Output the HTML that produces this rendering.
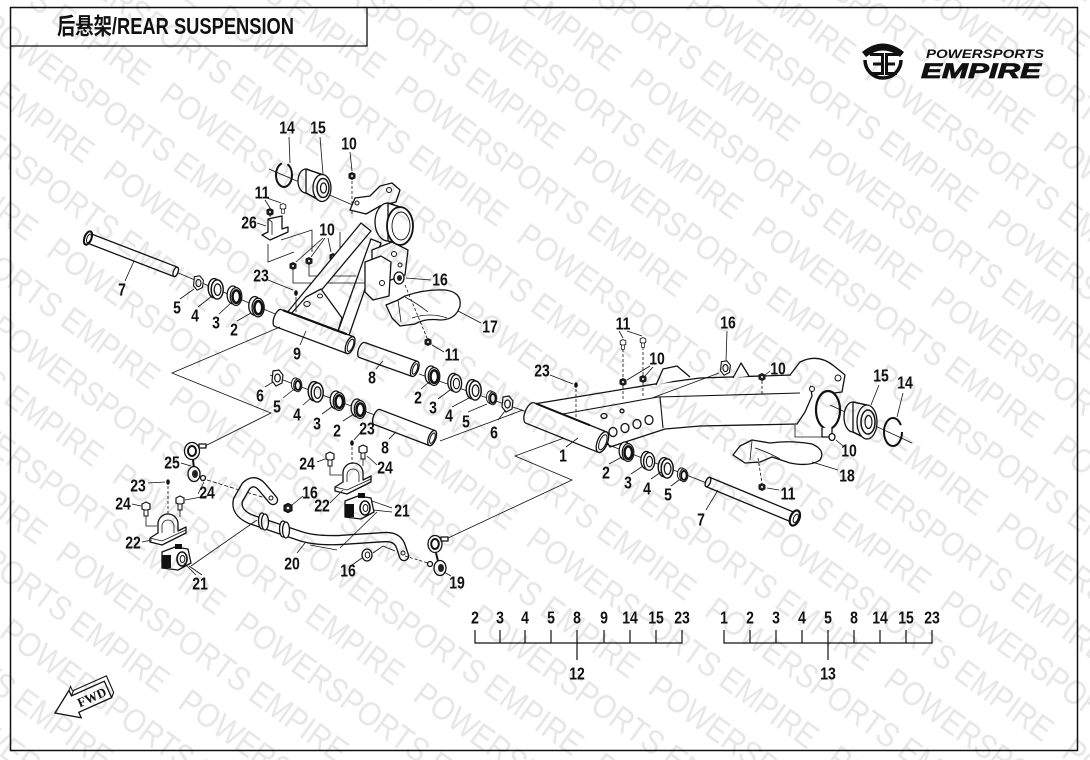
<!DOCTYPE html>
<html><head><meta charset="utf-8"><style>
html,body{margin:0;padding:0;background:#fff;}
svg{display:block;}
.n{font-family:"Liberation Sans",sans-serif;font-weight:bold;font-size:18px;text-anchor:middle;fill:#111;transform-box:fill-box;transform-origin:center;transform:scaleX(0.78);}
.l{fill:none;stroke:#111;stroke-width:0.8;}
.p{fill:#fff;stroke:#111;stroke-width:1.3;stroke-linejoin:round;}
.wmr{mix-blend-mode:multiply;}
</style></head><body>
<svg width="1090" height="760" viewBox="0 0 1090 760" xmlns="http://www.w3.org/2000/svg">
<defs>
<g id="wash">
 <ellipse cx="-1.5" cy="-0.7" rx="5" ry="8" fill="#fff" stroke="#111" stroke-width="1.2"/>
 <ellipse cx="1" cy="0.4" rx="5" ry="8" fill="#fff" stroke="#111" stroke-width="1.2"/>
 <ellipse cx="1.3" cy="0.5" rx="2.8" ry="4.8" fill="none" stroke="#111" stroke-width="1"/>
</g>
<g id="brg">
 <ellipse cx="-2" cy="-1" rx="5.5" ry="8.5" fill="#fff" stroke="#111" stroke-width="1.2"/>
 <ellipse cx="1" cy="0.5" rx="5.5" ry="8.5" fill="#fff" stroke="#111" stroke-width="1.2"/>
 <ellipse cx="1.2" cy="0.6" rx="3.6" ry="6" fill="none" stroke="#111" stroke-width="2.4"/>
</g>
<g id="nut">
 <polygon points="-4,-7 2,-8 6,-3 5,5 -1,8 -5,3" fill="#fff" stroke="#111" stroke-width="1.2"/>
 <ellipse cx="0.5" cy="0" rx="2.8" ry="4" fill="none" stroke="#111" stroke-width="1.2"/>
</g>
<g id="dot">
 <polygon points="-3,-2 0,-3.5 3,-2 3,2 0,3.5 -3,2" fill="#222" stroke="#111"/>
 <circle cx="0" cy="0" r="1" fill="#fff"/>
</g>
<g id="bolt">
 <polygon points="-4,-3 0,-5 4,-3 4,2 0,3.5 -4,2" fill="#fff" stroke="#111" stroke-width="1.2"/>
 <rect x="-2" y="3" width="4" height="6" fill="#fff" stroke="#111" stroke-width="1"/>
</g>
<g id="clamp">
 <path class="p" d="M150,538 L158,533 L158,524 A10,10 0 0 1 178,524 L178,531 L186,527 L186,533 L162,545 L150,542 Z"/>
 <path class="l" d="M162,533 L162,526 A6,6 0 0 1 174,526 L174,533 M150,538 L162,541 L186,530"/>
</g>
<g id="bush">
 <path class="p" d="M162,552 L175,547 L188,549 L191,563 L178,570 L162,568 Z"/>
 <rect x="162" y="555" width="9" height="13" fill="#111"/>
 <rect x="175" y="544" width="7" height="5" fill="#111"/>
 <ellipse cx="182" cy="559" rx="5" ry="7" fill="#fff" stroke="#111" stroke-width="1.6"/>
 <ellipse cx="182.5" cy="559" rx="2.4" ry="3.5" fill="#fff" stroke="#111"/>
</g>
<pattern id="wm" width="372" height="96" patternUnits="userSpaceOnUse" patternTransform="rotate(36)">
 <g font-family="Liberation Sans, sans-serif" font-size="34" fill="#e7e7e7">
  <text x="0" y="36" textLength="350" lengthAdjust="spacingAndGlyphs">POWERSPORTS EMPIRE</text>
  <text x="186" y="84" textLength="350" lengthAdjust="spacingAndGlyphs">POWERSPORTS EMPIRE</text>
  <text x="-186" y="84" textLength="350" lengthAdjust="spacingAndGlyphs">POWERSPORTS EMPIRE</text>
 </g>
</pattern>
</defs>

<rect width="1090" height="760" fill="#fff"/>

<!-- frame -->
<rect x="10.5" y="7.5" width="1067" height="743" fill="none" stroke="#111" stroke-width="1.5"/>
<path d="M10.5,46 H367 V7.5" fill="none" stroke="#111" stroke-width="1.3"/>
<text x="57" y="34" font-family="Liberation Sans, Noto Sans CJK SC, sans-serif" font-weight="bold" font-size="23" textLength="237" lengthAdjust="spacingAndGlyphs" fill="#111">后悬架/REAR SUSPENSION</text>

<!-- logo -->
<g>
 <path d="M865,60 A18,18 0 1 0 901,60" fill="none" stroke="#111" stroke-width="3.5"/>
 <path d="M862,52 Q883,35 904,52 L900,57 Q883,44 866,57 Z" fill="#111"/>
 <rect x="881" y="53" width="3" height="22" fill="#111"/>
 <rect x="870" y="53" width="14" height="3" fill="#111"/>
 <rect x="873" y="62.5" width="11" height="3" fill="#111"/>
 <rect x="871" y="72" width="13" height="3" fill="#111"/>
 <rect x="885" y="53" width="3" height="22" fill="#111"/>
 <rect x="885" y="53" width="13" height="3" fill="#111"/>
 <rect x="885" y="62.5" width="10" height="3" fill="#111"/>
 <rect x="885" y="72" width="12" height="3" fill="#111"/>
 <text x="926" y="58" font-family="Liberation Sans, sans-serif" font-weight="bold" font-style="italic" font-size="12" textLength="118" lengthAdjust="spacingAndGlyphs" fill="#111">POWERSPORTS</text>
 <text x="921" y="78" font-family="Liberation Sans, sans-serif" font-weight="bold" font-style="italic" font-size="21" textLength="120" lengthAdjust="spacingAndGlyphs" fill="#111" stroke="#111" stroke-width="0.8">EMPIRE</text>
</g>

<!-- ============ UPPER LEFT ASSEMBLY ============ -->
<line class="l" x1="176" y1="272" x2="280" y2="316"/>
<line class="l" x1="269" y1="169" x2="355" y2="206"/>
<g transform="translate(88,238) rotate(21.1)">
 <path class="p" d="M0,-5 L94,-5 A2.3,5 0 0 1 94,5 L0,5 A2.3,5 0 0 1 0,-5 Z"/>
 <ellipse cx="94" cy="0" rx="2.3" ry="5" class="p"/>
 <ellipse cx="0" cy="0" rx="3.5" ry="7" fill="#fff" stroke="#111" stroke-width="2"/>
 <ellipse cx="1" cy="0" rx="2" ry="4.5" fill="none" stroke="#111"/>
</g>
<use href="#nut" transform="translate(198,283) scale(0.9)"/>
<use href="#wash" transform="translate(216,289) scale(1.2)"/>
<use href="#brg" transform="translate(235,296) scale(1.05)"/>
<use href="#brg" transform="translate(257,307) scale(1.1)"/>

<ellipse cx="284" cy="175" rx="8" ry="12" fill="none" stroke="#111" stroke-width="2" stroke-dasharray="45 6 100"/>
<ellipse cx="306" cy="181" rx="8" ry="12" class="p"/>
<path class="p" d="M306,169 L322,174.5 L322,201.5 L306,193 Z" stroke="none"/>
<path class="l" d="M306,169 L322,174.5 M306,193 L322,201.5" style="stroke-width:1.3"/>
<ellipse cx="322" cy="188" rx="9" ry="13.5" class="p"/>
<ellipse cx="323" cy="188" rx="6" ry="9.5" fill="none" stroke="#111" stroke-width="1.5"/>
<ellipse cx="323.5" cy="188" rx="3" ry="5" fill="none" stroke="#111" stroke-width="1.2"/>
<line class="l" x1="289" y1="137" x2="290" y2="163"/>
<line class="l" x1="320" y1="137" x2="323" y2="174"/>
<use href="#dot" transform="translate(352,176)"/>
<line class="l" x1="350" y1="152" x2="352" y2="171"/>
<line class="l" x1="352" y1="181" x2="352" y2="214" stroke-dasharray="3 2"/>

<use href="#dot" transform="translate(270,212)"/>
<use href="#bolt" transform="translate(283,207) scale(0.7)"/>
<line class="l" x1="265" y1="200" x2="270" y2="208"/>
<line class="l" x1="267" y1="198" x2="281" y2="203"/>
<line class="l" x1="270" y1="215" x2="270" y2="222" stroke-dasharray="2 2"/>
<path class="p" d="M262,235 L268,232 L268,219 L282,216 L282,229 L288,227 L288,232 L270,240 Z"/>
<path class="l" d="M268,219 L272,222 L272,235"/>
<line class="l" x1="257" y1="223" x2="266" y2="226"/>
<polyline class="l" points="268,244 268,262 294,252"/>
<polyline class="l" points="281,240 312,230 312,252"/>
<use href="#dot" transform="translate(293,266)"/>
<use href="#dot" transform="translate(309,261)"/>
<use href="#dot" transform="translate(333,257)"/>
<line class="l" x1="323" y1="238" x2="296" y2="262"/>
<line class="l" x1="325" y1="238" x2="311" y2="257"/>
<line class="l" x1="328" y1="238" x2="331" y2="252"/>
<polyline class="l" points="293,270 293,283 355,283"/>
<polyline class="l" points="309,265 309,276 356,276"/>
<polyline class="l" points="333,261 340,261 340,232"/>

<path class="p" d="M286,314 L298,318 L371,231 L361,223 Z"/>
<path class="p" d="M336,337 L347,341 L381,243 L371,239 Z"/>
<path class="p" d="M290,315 L338,331 L342,318 L321,289 L306,297 Z"/>
<ellipse cx="307" cy="304" rx="3.2" ry="2.5" fill="#fff" stroke="#111"/>
<ellipse cx="320" cy="296" rx="2.5" ry="2" fill="#fff" stroke="#111"/>
<path class="p" d="M350,210 L355,198 L370,196 L380,186 L392,183 L400,190 L396,202 L380,206 L366,214 Z"/>
<circle cx="389" cy="190" r="2.5" fill="#fff" stroke="#111"/>
<circle cx="357" cy="203" r="2" fill="#fff" stroke="#111"/>
<ellipse cx="388" cy="222" rx="13" ry="19" class="p"/>
<path class="p" d="M388,203 L400,207 A13,19 0 0 1 400,245 L388,241 Z" stroke="none"/>
<path class="l" d="M388,203 L400,207 M388,241 L400,245" style="stroke-width:1.3"/>
<ellipse cx="400" cy="226" rx="13" ry="19" fill="#fff" stroke="#111" stroke-width="1.8"/>
<ellipse cx="401" cy="226" rx="9" ry="14" fill="none" stroke="#111" stroke-width="0.9"/>
<path class="p" d="M372,250 L392,242 L408,250 L405,275 L385,282 L372,275 Z"/>
<circle cx="394" cy="254" r="2.5" fill="#fff" stroke="#111"/>
<circle cx="400" cy="265" r="2" fill="#fff" stroke="#111"/>
<path class="p" d="M365,262 L381,256 L391,262 L389,296 L373,300 L365,292 Z"/>
<circle cx="382" cy="283" r="2.5" fill="#fff" stroke="#111"/>
<line class="l" x1="355" y1="283" x2="365" y2="283"/>
<g transform="translate(278,318) rotate(20.6)">
 <path class="p" d="M0,-9 L77,-9 A4,9 0 0 1 77,9 L0,9 A4,9 0 0 1 0,-9 Z"/>
 <line x1="2" y1="-9" x2="70" y2="-9" stroke="#111" stroke-width="2.2"/>
 <ellipse cx="77" cy="0" rx="4" ry="9" class="p"/>
 <ellipse cx="77.5" cy="0" rx="2.6" ry="6.5" fill="none" stroke="#111"/>
</g>
<ellipse cx="399" cy="278" rx="5" ry="6" class="p"/>
<ellipse cx="399.5" cy="278" rx="2.5" ry="3" fill="#222"/>
<line class="l" x1="431" y1="280" x2="406" y2="278"/>
<path class="p" d="M386,305 L398,300 L405,296 Q425,289 445,290 Q462,292 460,306 Q456,320 440,320 Q425,318 415,324 L400,326 L392,318 Z"/>
<path class="l" d="M398,300 L401,322 M405,297 Q418,304 428,312 M412,318 Q430,312 447,318"/>
<line class="l" x1="481" y1="323" x2="458" y2="311"/>
<line class="l" x1="405" y1="285" x2="427" y2="338" stroke-dasharray="3 2"/>
<use href="#dot" transform="translate(428,342)"/>
<line class="l" x1="444" y1="352" x2="432" y2="345"/>
<ellipse cx="296" cy="293" rx="1.8" ry="2.8" fill="#111"/>
<line class="l" x1="268" y1="280" x2="293" y2="290"/>
<line class="l" x1="296" y1="297" x2="296" y2="312"/>
<line class="l" x1="300" y1="345" x2="306" y2="331"/>
<line class="l" x1="125" y1="281" x2="134" y2="261"/>
<line class="l" x1="180" y1="299" x2="194" y2="289"/>
<line class="l" x1="198" y1="307" x2="212" y2="296"/>
<line class="l" x1="219" y1="314" x2="231" y2="303"/>
<line class="l" x1="237" y1="321" x2="251" y2="313"/>

<g transform="translate(362,350) rotate(19.7)">
 <path class="p" d="M0,-8 L56,-8 A3.6,8 0 0 1 56,8 L0,8 A3.6,8 0 0 1 0,-8 Z"/>
 <ellipse cx="56" cy="0" rx="3.6" ry="8" class="p"/>
 <ellipse cx="56.3" cy="0" rx="2.2" ry="5.5" fill="none" stroke="#111"/>
</g>
<line class="l" x1="376" y1="369" x2="383" y2="361"/>
<line class="l" x1="419" y1="374" x2="530" y2="413"/>
<use href="#brg" transform="translate(433,376) scale(1.05)"/>
<use href="#wash" transform="translate(455,383) scale(1.1)"/>
<use href="#wash" transform="translate(474,390) scale(1.2)"/>
<use href="#brg" transform="translate(492,398) scale(0.75)"/>
<use href="#nut" transform="translate(507,404)"/>
<line class="l" x1="421" y1="389" x2="429" y2="382"/>
<line class="l" x1="438" y1="399" x2="450" y2="390"/>
<line class="l" x1="452" y1="407" x2="469" y2="398"/>
<line class="l" x1="468" y1="412" x2="487" y2="404"/>
<line class="l" x1="498" y1="420" x2="505" y2="411"/>

<polyline class="l" points="205,446 271,413 172,373 280,327"/>
<line class="l" x1="270" y1="375" x2="380" y2="417"/>
<use href="#nut" transform="translate(277,378)"/>
<use href="#brg" transform="translate(297,385) scale(0.75)"/>
<use href="#wash" transform="translate(316,392) scale(1.2)"/>
<use href="#brg" transform="translate(338,401) scale(1.05)"/>
<use href="#brg" transform="translate(359,409) scale(1.05)"/>
<g transform="translate(377,417) rotate(20.9)">
 <path class="p" d="M0,-8 L59,-8 A3.6,8 0 0 1 59,8 L0,8 A3.6,8 0 0 1 0,-8 Z"/>
 <ellipse cx="59" cy="0" rx="3.6" ry="8" class="p"/>
 <ellipse cx="59.3" cy="0" rx="2.2" ry="5.5" fill="none" stroke="#111"/>
</g>
<line class="l" x1="440" y1="441" x2="523" y2="410"/>
<line class="l" x1="265" y1="387" x2="273" y2="382"/>
<line class="l" x1="283" y1="398" x2="293" y2="390"/>
<line class="l" x1="303" y1="405" x2="311" y2="398"/>
<line class="l" x1="322" y1="414" x2="333" y2="406"/>
<line class="l" x1="343" y1="421" x2="354" y2="414"/>
<line class="l" x1="389" y1="439" x2="396" y2="432"/>

<!-- ============ STABILIZER ============ -->
<ellipse cx="192" cy="451" rx="7.5" ry="8.5" class="p"/>
<ellipse cx="192" cy="451" rx="4" ry="5" fill="none" stroke="#111" stroke-width="2"/>
<rect x="199" y="444" width="7" height="4" class="p"/>
<line x1="193" y1="460" x2="194" y2="468" stroke="#111" stroke-width="2"/>
<ellipse cx="194" cy="474" rx="6" ry="7.5" class="p"/>
<ellipse cx="195" cy="474" rx="3" ry="4" fill="#222"/>
<circle cx="203" cy="478" r="2.5" class="p"/>
<line class="l" x1="181" y1="463" x2="191" y2="466"/>
<line class="l" x1="198" y1="494" x2="204" y2="482"/>
<line class="l" x1="207" y1="480" x2="272" y2="500" stroke-dasharray="4 2"/>
<path d="M273,500 L262,487 Q254,478 246,486 L238,500 Q235,512 250,519 L300,536 Q315,541 340,540 L386,537 Q398,537 401,547 L404,556" fill="none" stroke="#111" stroke-width="10.5" stroke-linecap="round" stroke-linejoin="round"/>
<path d="M273,500 L262,487 Q254,478 246,486 L238,500 Q235,512 250,519 L300,536 Q315,541 340,540 L386,537 Q398,537 401,547 L404,556" fill="none" stroke="#fff" stroke-width="7.8" stroke-linecap="round" stroke-linejoin="round"/>
<circle cx="271" cy="498" r="2" fill="#fff" stroke="#111"/>
<circle cx="403" cy="553" r="2" fill="#fff" stroke="#111"/>
<ellipse cx="262" cy="521" rx="3.5" ry="8" class="p"/>
<ellipse cx="265" cy="522" rx="3.5" ry="8" class="p"/>
<ellipse cx="283" cy="529" rx="3.5" ry="8" class="p"/>
<ellipse cx="286" cy="530" rx="3.5" ry="8" class="p"/>
<use href="#dot" transform="translate(288,508) scale(1.3)"/>
<line class="l" x1="303" y1="496" x2="292" y2="505"/>
<ellipse cx="367" cy="555" rx="5" ry="6" class="p"/>
<ellipse cx="367.5" cy="555" rx="2.3" ry="3" fill="#fff" stroke="#111"/>
<line class="l" x1="352" y1="565" x2="362" y2="558"/>
<polyline class="l" points="373,553 383,546 395,551"/>
<line class="l" x1="297" y1="553" x2="305" y2="543"/>
<line class="l" x1="310" y1="545" x2="337" y2="550"/>
<use href="#clamp"/>
<use href="#bush"/>
<use href="#clamp" transform="translate(185,-51)"/>
<use href="#bush" transform="translate(183,-51)"/>
<use href="#bolt" transform="translate(146,507)"/>
<use href="#bolt" transform="translate(180,501)"/>
<use href="#bolt" transform="translate(330,457)"/>
<use href="#bolt" transform="translate(363,450)"/>
<polyline class="l" points="146,516 146,526 157,526"/>
<line class="l" x1="180" y1="510" x2="180" y2="517"/>
<polyline class="l" points="330,466 330,475 342,475"/>
<line class="l" x1="363" y1="459" x2="363" y2="466"/>
<ellipse cx="168" cy="482" rx="1.8" ry="2.8" fill="#111"/>
<line class="l" x1="168" y1="486" x2="168" y2="515" stroke-dasharray="3 2"/>
<ellipse cx="352" cy="443" rx="1.8" ry="2.8" fill="#111"/>
<line class="l" x1="352" y1="447" x2="352" y2="464" stroke-dasharray="3 2"/>
<line class="l" x1="148" y1="483" x2="165" y2="482"/>
<line class="l" x1="132" y1="504" x2="141" y2="506"/>
<line class="l" x1="142" y1="542" x2="152" y2="540"/>
<line class="l" x1="196" y1="575" x2="184" y2="563"/>
<line class="l" x1="202" y1="575" x2="189" y2="566"/>
<line class="l" x1="191" y1="566" x2="257" y2="520"/>
<line class="l" x1="212" y1="495" x2="185" y2="500"/>
<line class="l" x1="317" y1="462" x2="325" y2="459"/>
<line class="l" x1="377" y1="465" x2="367" y2="456"/>
<line class="l" x1="330" y1="503" x2="343" y2="490"/>
<line class="l" x1="392" y1="508" x2="372" y2="501"/>
<line class="l" x1="392" y1="512" x2="373" y2="510"/>
<line class="l" x1="377" y1="512" x2="340" y2="548"/>
<line class="l" x1="361" y1="432" x2="354" y2="440"/>
<ellipse cx="435" cy="544" rx="7" ry="8.5" class="p"/>
<ellipse cx="435" cy="544" rx="3.8" ry="5" fill="none" stroke="#111" stroke-width="2"/>
<rect x="441" y="537" width="7" height="4" class="p"/>
<line x1="436" y1="553" x2="438" y2="561" stroke="#111" stroke-width="2"/>
<ellipse cx="440" cy="568" rx="6" ry="7.5" class="p"/>
<ellipse cx="441" cy="568" rx="3" ry="4" fill="#222"/>
<circle cx="430" cy="564" r="2.5" class="p"/>
<line class="l" x1="405" y1="556" x2="428" y2="563" stroke-dasharray="3 2"/>
<line class="l" x1="451" y1="576" x2="444" y2="572"/>
<polyline class="l" points="448,538 572,480 515,456 583,431"/>

<!-- ============ TRAILING ARM 1 ============ -->
<path class="p" d="M534,404 L655,384 L700,378 L792,375 L810,382 L812,396 L805,412 L797,424 L700,426 L665,429 L610,447 L600,430 Z"/>
<path class="l" d="M546,417 L658,397 L800,393" style="stroke-width:1.1"/>
<path class="l" d="M660,397 L663,428" style="stroke-width:1.1"/>
<ellipse cx="613" cy="432" rx="4" ry="4.5" class="p"/>
<ellipse cx="625" cy="428" rx="4" ry="4.5" class="p"/>
<ellipse cx="637" cy="424" rx="4" ry="4.5" class="p"/>
<ellipse cx="649" cy="420" rx="4" ry="4.5" class="p"/>
<ellipse cx="604" cy="416" rx="3" ry="2.5" class="p"/>
<ellipse cx="622" cy="411" rx="2" ry="1.8" class="p"/>
<path class="p" d="M656,385 L663,369 L677,366 L690,377"/>
<path class="p" d="M733,378 L741,363 L749,376"/>
<path class="p" d="M790,375 L800,362 Q818,353 834,366 L845,375 L842,392 L826,394"/>
<circle cx="838" cy="378" r="3" fill="#fff" stroke="#111"/>
<circle cx="812" cy="389" r="2.5" fill="#fff" stroke="#111"/>
<ellipse cx="828" cy="410" rx="12" ry="19" fill="#fff" stroke="#111" stroke-width="2.2"/>
<path class="p" d="M822,428 L822,437 L832,437 L832,427"/>
<g transform="translate(530,413) rotate(21.9)">
 <path class="p" d="M0,-11 L78,-11 A5,11 0 0 1 78,11 L0,11 A5,11 0 0 1 0,-11 Z"/>
 <line x1="2" y1="-11" x2="60" y2="-11" stroke="#111" stroke-width="2"/>
 <ellipse cx="78" cy="0" rx="5" ry="11" class="p"/>
 <ellipse cx="78.5" cy="0" rx="3.3" ry="8" fill="none" stroke="#111"/>
</g>
<line class="l" x1="566" y1="447" x2="578" y2="438"/>
<use href="#bolt" transform="translate(623,343) scale(0.7)"/>
<use href="#bolt" transform="translate(643,341) scale(0.7)"/>
<line class="l" x1="623" y1="349" x2="623" y2="378" stroke-dasharray="3 2"/>
<line class="l" x1="643" y1="347" x2="643" y2="375" stroke-dasharray="3 2"/>
<use href="#dot" transform="translate(623,382)"/>
<use href="#dot" transform="translate(643,379)"/>
<line class="l" x1="623" y1="386" x2="623" y2="400" stroke-dasharray="3 2"/>
<line class="l" x1="643" y1="383" x2="643" y2="397" stroke-dasharray="3 2"/>
<line class="l" x1="619" y1="331" x2="623" y2="338"/>
<line class="l" x1="627" y1="331" x2="642" y2="336"/>
<line class="l" x1="650" y1="366" x2="627" y2="380"/>
<line class="l" x1="653" y1="367" x2="645" y2="376"/>
<use href="#nut" transform="translate(725,368) scale(0.9)"/>
<line class="l" x1="727" y1="331" x2="726" y2="361"/>
<line class="l" x1="719" y1="373" x2="652" y2="398"/>
<use href="#dot" transform="translate(762,377)"/>
<line class="l" x1="770" y1="371" x2="765" y2="375"/>
<line class="l" x1="762" y1="381" x2="762" y2="394" stroke-dasharray="3 2"/>
<ellipse cx="576" cy="385" rx="1.8" ry="2.8" fill="#111"/>
<line class="l" x1="550" y1="375" x2="573" y2="384"/>
<line class="l" x1="576" y1="389" x2="576" y2="420" stroke-dasharray="3 2"/>
<line class="l" x1="830" y1="405" x2="912" y2="443"/>
<ellipse cx="853" cy="417" rx="9" ry="15" class="p"/>
<path class="p" d="M853,402 L867,405 L867,439 L853,432 Z" stroke="none"/>
<path class="l" d="M853,402 L867,405 M853,432 L867,439" style="stroke-width:1.3"/>
<ellipse cx="867" cy="422" rx="10" ry="17" class="p"/>
<ellipse cx="868" cy="422" rx="7" ry="12" fill="none" stroke="#111" stroke-width="1.5"/>
<ellipse cx="868.5" cy="422" rx="3.5" ry="6.5" fill="none" stroke="#111" stroke-width="1.2"/>
<ellipse cx="893" cy="432" rx="9" ry="14" fill="none" stroke="#111" stroke-width="2" stroke-dasharray="66 8"/>
<line class="l" x1="879" y1="385" x2="871" y2="405"/>
<line class="l" x1="903" y1="393" x2="897" y2="417"/>
<line class="l" x1="606" y1="444" x2="712" y2="485"/>
<use href="#brg" transform="translate(627,452) scale(1.05)"/>
<use href="#wash" transform="translate(648,461) scale(1.1)"/>
<use href="#wash" transform="translate(666,468) scale(1.2)"/>
<use href="#brg" transform="translate(683,475) scale(0.75)"/>
<line class="l" x1="609" y1="464" x2="622" y2="457"/>
<line class="l" x1="631" y1="474" x2="643" y2="466"/>
<line class="l" x1="651" y1="479" x2="661" y2="472"/>
<line class="l" x1="671" y1="486" x2="679" y2="480"/>
<g transform="translate(708,482) rotate(22.5)">
 <path class="p" d="M0,-5 L94,-5 A2.3,5 0 0 1 94,5 L0,5 A2.3,5 0 0 1 0,-5 Z"/>
 <ellipse cx="0" cy="0" rx="2.3" ry="5" class="p"/>
 <ellipse cx="94" cy="0" rx="4.5" ry="8" fill="#fff" stroke="#111" stroke-width="2.2"/>
 <ellipse cx="95" cy="0" rx="2.2" ry="4.5" fill="none" stroke="#111"/>
</g>
<line class="l" x1="706" y1="510" x2="718" y2="490"/>
<path class="p" d="M733,455 L740,446 L752,440 L770,443 Q790,440 812,444 Q826,450 820,460 Q810,467 790,463 L772,457 L760,462 L745,463 Z"/>
<path class="l" d="M752,441 L750,460 M755,448 Q768,452 780,459"/>
<line class="l" x1="838" y1="470" x2="812" y2="462"/>
<line class="l" x1="758" y1="458" x2="762" y2="483" stroke-dasharray="3 2"/>
<use href="#dot" transform="translate(762,487)"/>
<line class="l" x1="779" y1="490" x2="767" y2="488"/>
<polyline class="l" points="795,425 795,437 827,437"/>
<ellipse cx="832" cy="437" rx="3" ry="3.5" class="p"/>
<line class="l" x1="843" y1="446" x2="836" y2="440"/>

<!-- ============ LISTS ============ -->
<g stroke="#111" stroke-width="1.2" fill="none">
 <path d="M475,630 V643 H682 V630 M500,630 V643 M525,630 V643 M551,630 V643 M577,630 V660 M604,630 V643 M630,630 V643 M656,630 V643"/>
 <path d="M724,630 V643 H932 V630 M750,630 V643 M776,630 V643 M802,630 V643 M828,630 V660 M854,630 V643 M880,630 V643 M906,630 V643"/>
</g>

<g transform="translate(55,713) rotate(-24)">
 <polygon points="0,0 22,-15 22,-9 58,-9 58,9 22,9 22,15" fill="#fff" stroke="#111" stroke-width="1.3"/>
 <polyline points="22,-9 26,-13 62,-13 62,5 58,9 M58,-9 62,-13" fill="none" stroke="#111" stroke-width="1.1"/>
 <polyline points="22,-15 25,-18 25,-13" fill="none" stroke="#111" stroke-width="1"/>
 <text x="40" y="5" font-family="Liberation Serif, serif" font-weight="bold" font-size="13" text-anchor="middle" fill="#111">FWD</text>
</g>

<!-- ============ LABELS ============ -->
<text class="n" x="287" y="133.5">14</text>
<text class="n" x="318" y="133.5">15</text>
<text class="n" x="349" y="149.5">10</text>
<text class="n" x="262" y="198.5">11</text>
<text class="n" x="249" y="228.5">26</text>
<text class="n" x="327" y="235.5">10</text>
<text class="n" x="261" y="281.5">23</text>
<text class="n" x="440" y="285.5">16</text>
<text class="n" x="490" y="332.5">17</text>
<text class="n" x="452" y="360.5">11</text>
<text class="n" x="297" y="359.5">9</text>
<text class="n" x="372" y="383.5">8</text>
<text class="n" x="122" y="295.5">7</text>
<text class="n" x="177" y="313.5">5</text>
<text class="n" x="195" y="321.5">4</text>
<text class="n" x="216" y="328.5">3</text>
<text class="n" x="234" y="335.5">2</text>

<text class="n" x="260" y="401.5">6</text>
<text class="n" x="277" y="412.5">5</text>
<text class="n" x="297" y="420.5">4</text>
<text class="n" x="317" y="429.5">3</text>
<text class="n" x="337" y="436.5">2</text>
<text class="n" x="367" y="434.5">23</text>
<text class="n" x="385" y="453.5">8</text>
<text class="n" x="418" y="403.5">2</text>
<text class="n" x="433" y="413.5">3</text>
<text class="n" x="449" y="421.5">4</text>
<text class="n" x="466" y="427.5">5</text>
<text class="n" x="494" y="438.5">6</text>

<text class="n" x="172" y="468.5">25</text>
<text class="n" x="207" y="498.5">24</text>
<text class="n" x="138" y="491.5">23</text>
<text class="n" x="123" y="509.5">24</text>
<text class="n" x="133" y="548.5">22</text>
<text class="n" x="200" y="589.5">21</text>
<text class="n" x="310" y="498.5">16</text>
<text class="n" x="322" y="511.5">22</text>
<text class="n" x="402" y="516.5">21</text>
<text class="n" x="307" y="469.5">24</text>
<text class="n" x="385" y="473.5">24</text>
<text class="n" x="292" y="569.5">20</text>
<text class="n" x="348" y="576.5">16</text>
<text class="n" x="457" y="588.5">19</text>

<text class="n" x="623" y="329.5">11</text>
<text class="n" x="728" y="328.5">16</text>
<text class="n" x="657" y="364.5">10</text>
<text class="n" x="542" y="376.5">23</text>
<text class="n" x="778" y="374.5">10</text>
<text class="n" x="881" y="381.5">15</text>
<text class="n" x="905" y="388.5">14</text>
<text class="n" x="563" y="461.5">1</text>
<text class="n" x="606" y="478.5">2</text>
<text class="n" x="628" y="488.5">3</text>
<text class="n" x="647" y="494.5">4</text>
<text class="n" x="668" y="500.5">5</text>
<text class="n" x="701" y="525.5">7</text>
<text class="n" x="788" y="499.5">11</text>
<text class="n" x="847" y="481.5">18</text>
<text class="n" x="849" y="456.5">10</text>

<text class="n" x="475" y="623.5">2</text>
<text class="n" x="500" y="623.5">3</text>
<text class="n" x="525" y="623.5">4</text>
<text class="n" x="551" y="623.5">5</text>
<text class="n" x="577" y="623.5">8</text>
<text class="n" x="604" y="623.5">9</text>
<text class="n" x="630" y="623.5">14</text>
<text class="n" x="656" y="623.5">15</text>
<text class="n" x="682" y="623.5">23</text>
<text class="n" x="577" y="679.5">12</text>

<text class="n" x="724" y="623.5">1</text>
<text class="n" x="750" y="623.5">2</text>
<text class="n" x="776" y="623.5">3</text>
<text class="n" x="802" y="623.5">4</text>
<text class="n" x="828" y="623.5">5</text>
<text class="n" x="854" y="623.5">8</text>
<text class="n" x="880" y="623.5">14</text>
<text class="n" x="906" y="623.5">15</text>
<text class="n" x="932" y="623.5">23</text>
<text class="n" x="828" y="679.5">13</text>

<!-- watermark overlay (multiply so black lines stay black) -->
<rect class="wmr" x="0" y="0" width="1090" height="760" fill="url(#wm)"/>
</svg>
</body></html>
